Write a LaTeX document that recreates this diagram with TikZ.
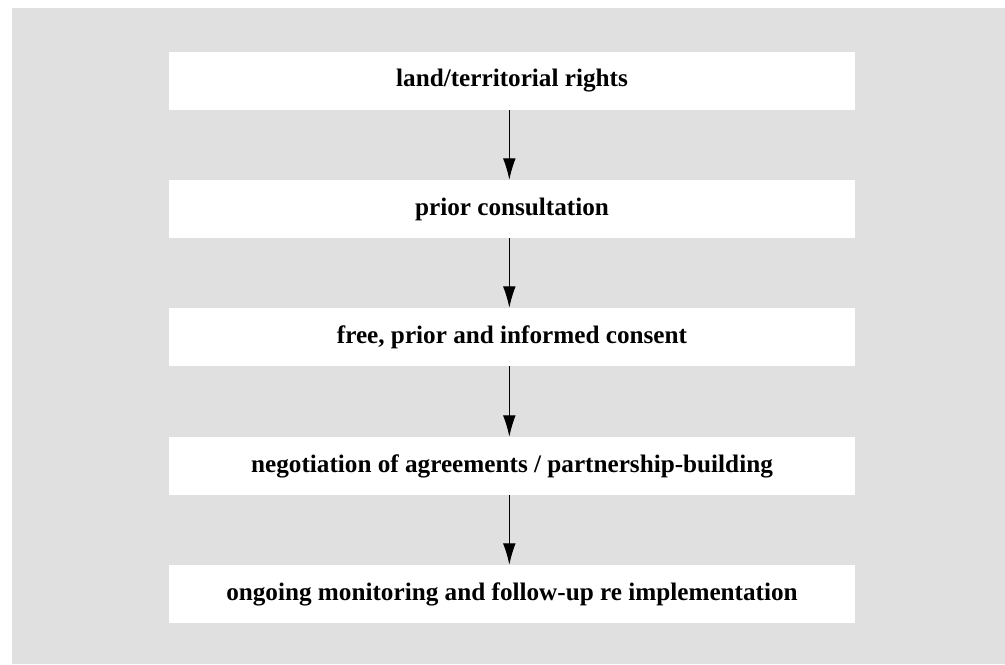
\documentclass[tikz,border=0pt]{standalone}
\usepackage{fontspec}
\setmainfont{Liberation Serif}
\usetikzlibrary{arrows.meta}
\definecolor{panelgray}{HTML}{E0E0E0}
\tikzset{
    stage/.style={fill=white, minimum width=514.5pt, minimum height=43.5pt, inner sep=0pt,
        font=\fontsize{18.9}{21}\selectfont\bfseries},
    flow/.style={-{Latex[length=16pt, width=9.5pt]}, line width=0.75pt}
}
\begin{document}
\begin{tikzpicture}[x=0.75pt, y=-0.75pt]
        \useasboundingbox (0, 0) rectangle (1005, 664);
        \fill [panelgray] (12, 8) rectangle (1005, 664);
        \node[stage] (rights) at (512, 81) {land/territorial rights};
        \node[stage] (consult) at (512, 209) {prior consultation};
        \node[stage] (fpic) at (512, 337) {free, prior and informed consent};
        \node[stage] (negot) at (512, 466) {negotiation of agreements / partnership-building};
        \node[stage] (monitor) at (512, 594) {ongoing monitoring and follow-up re implementation};
        \draw [flow] ([xshift=-2pt]rights.south) -- ([xshift=-2pt]consult.north);
        \draw [flow] ([xshift=-2pt]consult.south) -- ([xshift=-2pt]fpic.north);
        \draw [flow] ([xshift=-2pt]fpic.south) -- ([xshift=-2pt]negot.north);
        \draw [flow] ([xshift=-2pt]negot.south) -- ([xshift=-2pt]monitor.north);
    \end{tikzpicture}
\end{document}
